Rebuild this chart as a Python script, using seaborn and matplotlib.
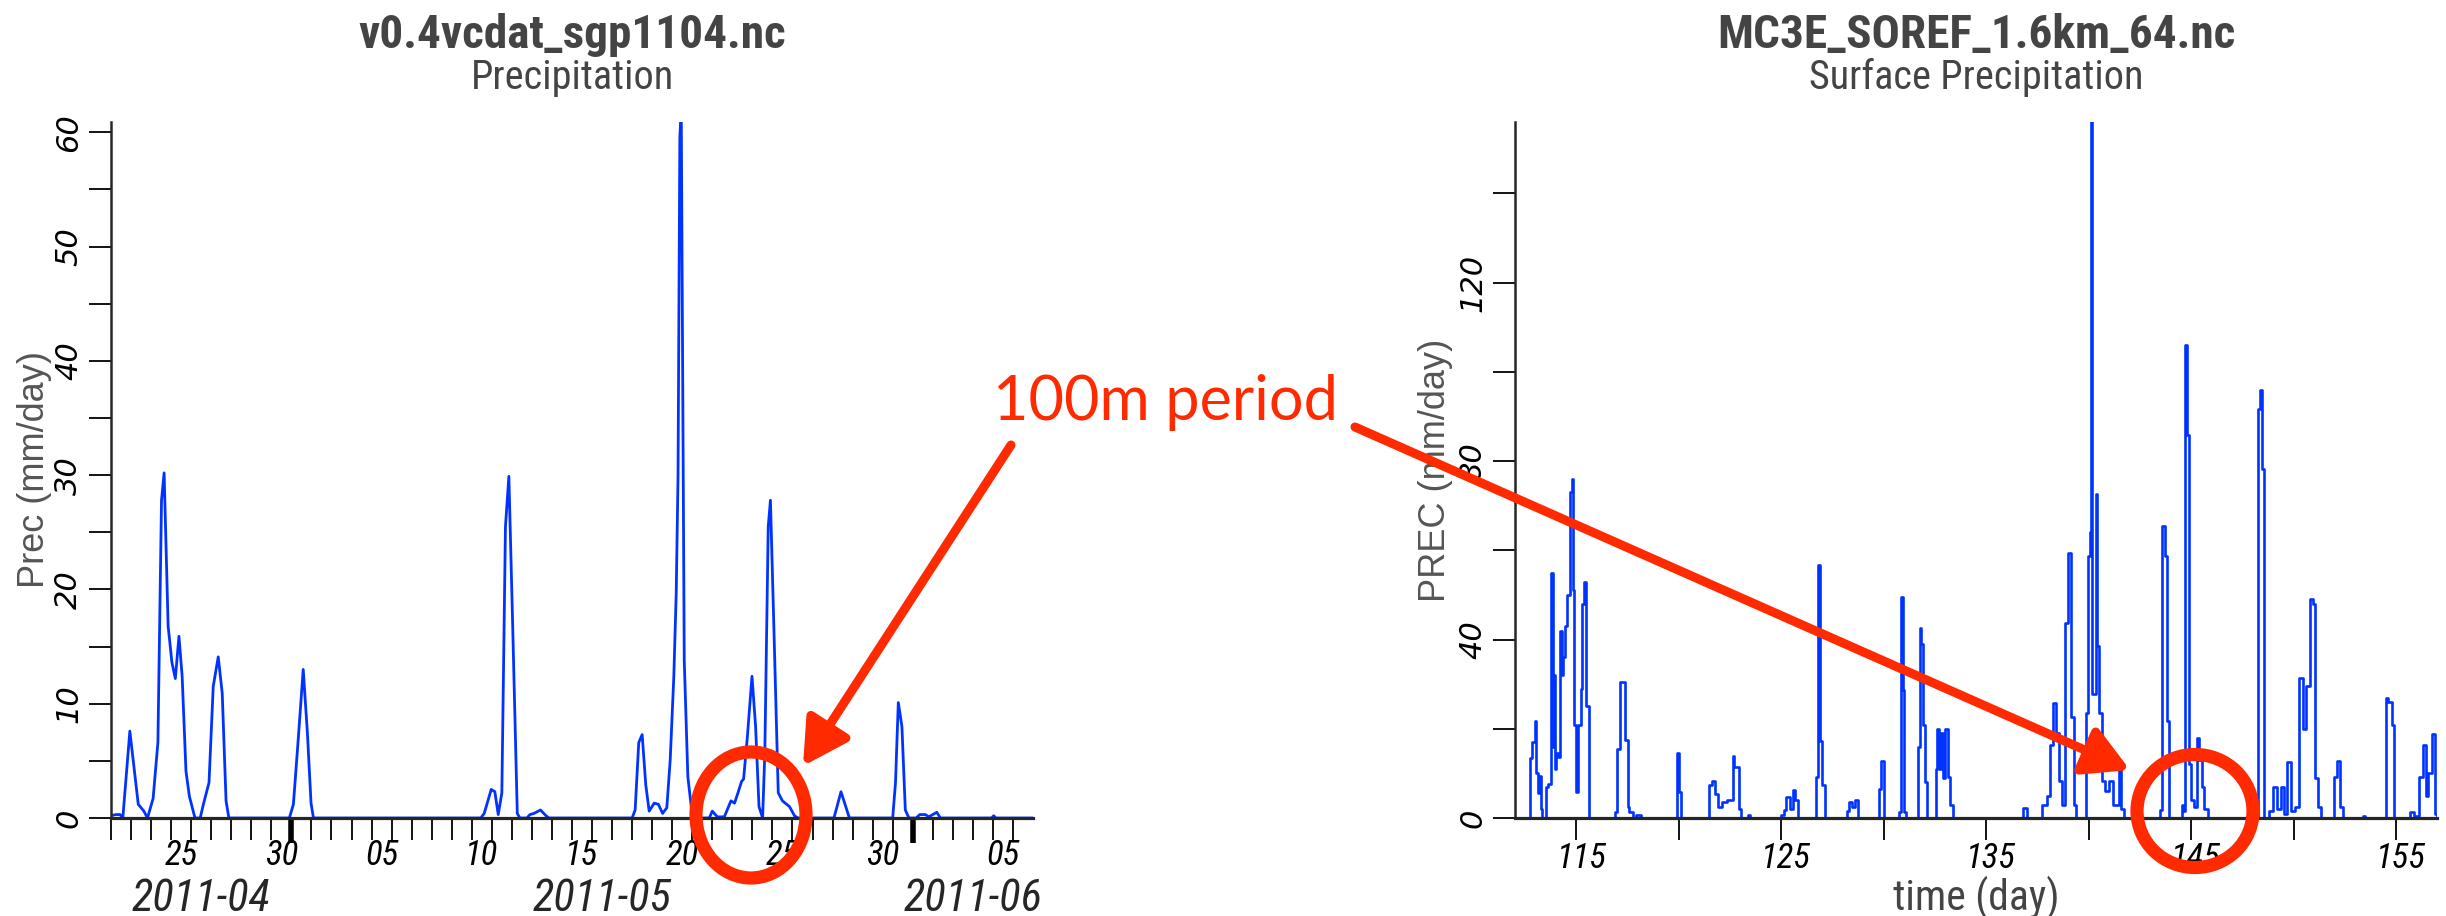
import numpy as np
import pandas as pd
import matplotlib
matplotlib.use("Agg")
import matplotlib.pyplot as plt
import seaborn as sns
from matplotlib.patches import Ellipse, FancyArrowPatch
from matplotlib.transforms import ScaledTranslation

# ---- left panel: observed precip, days since 2011-04-22 ----
obs_start = "2011-04-22"
obs_day = [0.0, 0.24, 0.45, 0.59, 0.94, 1.36, 1.64, 1.82, 2.1, 2.34, 2.52, 2.65, 2.85, 3.04,
           3.21, 3.39, 3.55, 3.74, 3.91, 4.19, 4.45, 4.61, 4.89, 5.1, 5.35, 5.55, 5.74, 5.88,
           8.9, 9.1, 9.35, 9.59, 9.8, 9.98, 10.1,
           18.45, 18.62, 18.97, 19.15, 19.32, 19.5, 19.68, 19.85, 20.03, 20.27, 20.4,
           20.75, 20.9, 21.1, 21.43, 21.7, 21.85,
           26.0, 26.15, 26.33, 26.5, 26.68, 26.85, 27.1, 27.31, 27.52, 27.73, 27.9, 28.08,
           28.2, 28.29, 28.38, 28.45, 28.6, 28.78, 28.95, 29.22,
           29.85, 30.0, 30.25, 30.6, 30.93, 31.11, 31.28, 31.46, 31.56, 31.74, 31.98, 32.16,
           32.33, 32.51, 32.62, 32.79, 32.9, 33.07, 33.29, 33.5, 33.85, 34.1, 34.27,
           36.07, 36.42, 36.84, 39.0, 39.14, 39.28, 39.46, 39.63, 39.81,
           40.17, 40.35, 40.63, 40.8, 41.0, 41.2, 41.38, 43.93, 44.04, 44.15, 46.0]
obs_prec = [0.2, 0.3, 0.3, 0.0, 7.6, 1.2, 0.6, 0.0, 1.7, 6.6, 27.8, 30.2, 16.8, 13.6,
            12.2, 15.9, 12.4, 4.1, 1.9, 0.0, 0.0, 1.2, 3.1, 11.5, 14.1, 10.9, 1.5, 0.0,
            0.0, 1.2, 7.1, 13.0, 7.4, 1.3, 0.0,
            0.0, 0.4, 2.5, 2.3, 0.3, 2.2, 25.5, 29.9, 17.6, 0.4, 0.0,
            0.0, 0.3, 0.4, 0.7, 0.2, 0.0,
            0.0, 0.7, 6.6, 7.3, 2.9, 0.6, 1.3, 1.2, 0.4, 0.9, 5.1, 12.4,
            19.7, 29.9, 59.5, 62.0, 13.8, 3.6, 1.0, 0.0,
            0.0, 0.6, 0.1, 0.1, 1.5, 1.3, 2.2, 3.2, 3.4, 6.9, 12.4, 8.0,
            1.0, 0.0, 5.7, 25.5, 27.8, 16.8, 2.2, 1.5, 1.0, 0.2, 0.0,
            0.0, 2.3, 0.0, 0.0, 3.1, 10.1, 8.0, 0.7, 0.0,
            0.0, 0.3, 0.3, 0.1, 0.3, 0.5, 0.0, 0.0, 0.2, 0.0, 0.0]

# ---- right panel: model surface precip, day of year (step values) ----
mod_day = [112.0, 112.73, 112.85, 112.98, 113.03, 113.1, 113.16, 113.25, 113.33,
           113.52, 113.62, 113.78, 113.84, 113.88, 113.95, 114.0, 114.1, 114.2, 114.28,
           114.35, 114.42, 114.55, 114.7, 114.76, 114.82, 114.9, 114.98, 115.08, 115.2,
           115.28, 115.38, 115.48, 115.62,
           116.88, 117.0, 117.12, 117.38, 117.5, 117.55, 117.75, 117.9, 118.15,
           119.9, 120.02, 120.1,
           121.45, 121.6, 121.75, 121.9, 122.1, 122.35, 122.62, 122.7, 122.95, 123.05,
           123.35, 123.45,
           125.0, 125.15, 125.25, 125.4, 125.55, 125.68, 125.8,
           126.7, 126.8, 126.88, 127.0, 127.15,
           128.2, 128.3, 128.45, 128.6, 128.75, 129.75, 129.88, 130.0,
           130.75, 130.82, 130.92, 131.0, 131.1,
           131.68, 131.75, 131.83, 131.9, 132.0, 132.1,
           132.55, 132.62, 132.7, 132.8, 132.9, 133.0, 133.15, 133.25, 133.4,
           136.8, 137.0, 137.7, 137.95, 138.1, 138.25, 138.4, 138.55, 138.7, 138.85,
           138.98, 139.12, 139.28, 139.4,
           139.88, 139.98, 140.08, 140.12, 140.18, 140.35, 140.42, 140.52, 140.65,
           140.8, 141.0, 141.2, 141.5, 141.6, 141.72,
           143.5, 143.6, 143.72, 143.8, 143.9,
           144.55, 144.6, 144.7, 144.82, 144.9, 145.0, 145.15, 145.3, 145.4, 145.52,
           145.65, 145.8,
           148.2, 148.28, 148.36, 148.44, 148.55,
           148.8, 149.0, 149.2, 149.4, 149.55, 149.7, 149.85, 150.05, 150.25, 150.45,
           150.6, 150.8, 150.95, 151.05, 151.2, 151.35,
           151.95, 152.1, 152.25, 152.4, 153.4, 153.5,
           154.5, 154.62, 154.8, 154.9, 155.7, 155.9, 156.1, 156.3, 156.45, 156.55,
           156.75, 156.9, 157.0]
mod_prec = [0.0, 13.5, 17.0, 21.7, 10.0, 5.5, 9.5, 2.0, 0.0,
            7.0, 7.7, 55.0, 16.0, 32.0, 11.0, 14.5, 13.7, 42.0, 32.0,
            36.0, 43.0, 50.0, 73.0, 76.0, 51.0, 20.8, 5.8, 20.8, 29.0,
            48.0, 53.0, 25.0, 0.0,
            1.3, 15.5, 30.5, 17.4, 2.5, 1.3, 0.0, 0.6, 0.0,
            14.6, 5.8, 0.0,
            7.5, 8.4, 5.4, 2.5, 3.5, 4.0, 14.0, 11.4, 2.0, 0.0,
            0.6, 0.0,
            0.6, 1.8, 4.7, 2.0, 6.2, 4.0, 0.0,
            9.3, 56.6, 17.3, 7.5, 0.0,
            1.5, 3.5, 2.5, 4.0, 0.0, 6.6, 12.8, 0.0,
            1.3, 49.6, 28.8, 1.3, 0.0,
            16.0, 42.5, 39.0, 20.8, 8.0, 0.0,
            11.0, 20.0, 11.0, 19.0, 9.0, 20.0, 9.3, 3.0, 0.0,
            2.2, 0.0, 3.0, 4.9, 16.4, 25.7, 19.0, 8.4, 3.0, 43.8,
            59.3, 22.6, 3.0, 0.0,
            23.5, 58.8, 64.0, 160.0, 27.9, 72.6, 38.5, 23.5, 8.4,
            6.0, 8.4, 3.0, 11.0, 2.0, 0.0,
            1.8, 65.5, 58.8, 21.7, 0.0,
            3.0, 1.5, 106.0, 85.8, 12.0, 4.0, 2.5, 18.0, 13.0, 7.0,
            2.0, 0.0,
            0.0, 91.6, 96.0, 78.3, 0.0,
            1.5, 6.9, 2.0, 6.9, 1.0, 12.5, 1.5, 2.5, 31.4, 20.0,
            29.6, 49.0, 48.0, 9.0, 2.5, 0.0,
            9.3, 12.8, 2.5, 0.0, 0.5, 0.0,
            27.0, 26.0, 20.8, 0.0, 1.3, 0.5, 9.3, 16.4, 5.0, 10.0,
            18.9, 1.0, 0.0]

titles = ["v0.4vcdat_sgp1104.nc", "MC3E_SOREF_1.6km_64.nc"]
subtitles = ["Precipitation", "Surface Precipitation"]
ylabels = ["Prec (mm/day)", "PREC (mm/day)"]
note_text = "100m period"

W, H = 2446, 916
blue = "#0033ff"
red = "#ff2a00"
gray = "#444444"
narrow = ["Liberation Sans Narrow", "Roboto Condensed", "Barlow Semi Condensed", "DejaVu Sans"]

sns.set_style("ticks")
plt.rcParams["font.family"] = ["Liberation Sans", "DejaVu Sans"]

fig = plt.figure(figsize=(W / 100, H / 100), dpi=100)
ax1 = fig.add_axes([111 / W, 1 - 818 / H, 922 / W, 696 / H])
ax2 = fig.add_axes([1515 / W, 1 - 818 / H, 922 / W, 696 / H])

sns.lineplot(x=obs_day, y=obs_prec, ax=ax1, color=blue, lw=2.0, sort=False)
sns.lineplot(x=mod_day, y=mod_prec, ax=ax2, color=blue, lw=1.9, sort=False,
             drawstyle="steps-post")

ynum = dict(family="DejaVu Sans", style="italic")
xnum = dict(family=narrow, style="italic")
nudge = ScaledTranslation(5 / 100, 0, fig.dpi_scale_trans)

for ax in (ax1, ax2):
    sns.despine(ax=ax)
    ax.spines["left"].set_linewidth(1.8)
    ax.spines["bottom"].set_linewidth(2.3)
    ax.spines["bottom"].set_zorder(3)
    ax.tick_params(axis="both", which="both", direction="out", length=16,
                   width=1.3, color="black", labelcolor="black")
    ax.tick_params(axis="y", which="major", pad=4)

# ---- left axes ----
ax1.set_xlim(0, 46.0)
ax1.set_ylim(0, 60.9)
dates = pd.date_range(obs_start, periods=46, freq="D")
ax1.set_xticks(np.arange(46))
ax1.tick_params(axis="x", which="major", labelbottom=False)
lab_pos = [i + 0.5 for i, d in enumerate(dates) if d.day % 5 == 0]
lab_txt = ["%02d" % d.day for d in dates if d.day % 5 == 0]
ax1.set_xticks(lab_pos, lab_txt, minor=True, fontsize=25, **xnum)
ax1.tick_params(axis="x", which="minor", length=0, pad=15)
for i, tick in enumerate(ax1.xaxis.get_major_ticks()):
    if dates[i].day == 1:
        tick.tick1line.set_markeredgewidth(4)
        tick.tick1line.set_markersize(18)
ax1.set_yticks(np.arange(0, 61, 10), [str(v) for v in range(0, 61, 10)],
               rotation=90, va="center", fontsize=22, **ynum)
ax1.set_yticks(np.arange(5, 60, 10), minor=True)

month_names = sorted(set(d.strftime("%Y-%m") for d in dates))
for m in month_names:
    idx = [i for i, d in enumerate(dates) if d.strftime("%Y-%m") == m]
    mid = (idx[0] + min(idx[-1] + 1, 46)) / 2
    ax1.text(mid, -0.116, m, transform=ax1.get_xaxis_transform(), ha="center",
             va="center", fontsize=32, **xnum)

# ---- right axes ----
ax2.set_xlim(112, 157)
ax2.set_ylim(0, 156)
xt = np.arange(115, 156, 5)
ax2.set_xticks(xt, [str(v) if v % 10 == 5 else "" for v in xt], fontsize=25, **xnum)
ax2.tick_params(axis="x", which="major", pad=1)
for lab in ax2.get_xticklabels():
    lab.set_transform(lab.get_transform() + nudge)
ax2.set_yticks([0, 40, 80, 120], ["0", "40", "80", "120"], rotation=90,
               va="center", fontsize=22, **ynum)
ax2.set_yticks([20, 60, 100, 140], minor=True)
ax2.set_xlabel("time (day)", fontsize=30, color=gray, va="center", family=narrow)
ax2.xaxis.set_label_coords(0.5, -0.115)

for ax, t, s, yl, lx in zip((ax1, ax2), titles, subtitles, ylabels, (-0.0835, -0.0857)):
    ax.text(0.5, 1.106, t, transform=ax.transAxes, ha="center", va="baseline",
            fontsize=34, fontweight="bold", color=gray, family=narrow)
    ax.text(0.5, 1.047, s, transform=ax.transAxes, ha="center", va="baseline",
            fontsize=29, color=gray, family=narrow)
    ax.set_ylabel(yl, fontsize=26, color="#555555", va="center")
    ax.yaxis.set_label_coords(lx, 0.5)

# ---- annotation overlay ----
fig.text(1165 / W, 1 - 420 / H, note_text, ha="center", va="baseline",
         fontsize=44, color=red, family=["Lato", "DejaVu Sans"])
for (x0, y0), (x1, y1) in [((1011, 445), (803, 766)), ((1355, 427), (2130, 770))]:
    fig.add_artist(FancyArrowPatch((x0 / W, 1 - y0 / H), (x1 / W, 1 - y1 / H),
                                   transform=fig.transFigure, color=red, lw=6.5,
                                   arrowstyle="-|>,head_length=0.9,head_width=0.5",
                                   mutation_scale=30, shrinkA=0, shrinkB=0))
for cx, cy, w, h in [(751, 815, 110, 126), (2195, 811, 116, 113)]:
    fig.add_artist(Ellipse((cx / W, 1 - cy / H), w / W, h / H, transform=fig.transFigure,
                           fill=False, ec=red, lw=9.5))

fig.savefig("out.png", dpi=100)
